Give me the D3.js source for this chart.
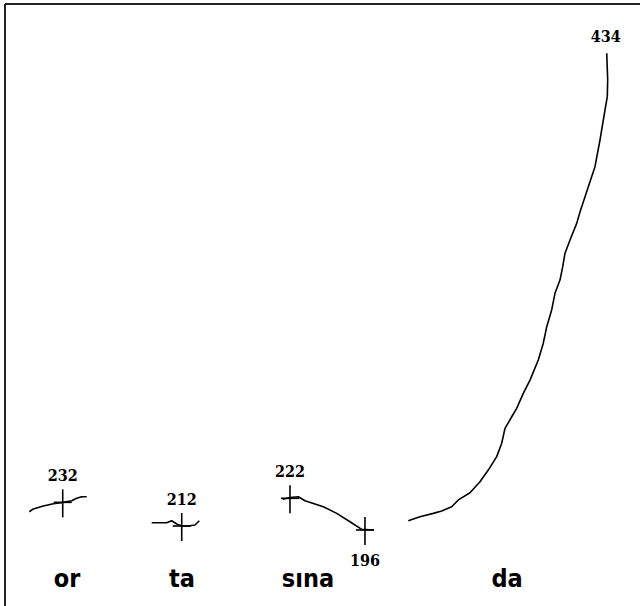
<!DOCTYPE html>
<html>
<head>
<meta charset="utf-8">
<script src="https://cdn.jsdelivr.net/npm/d3@7"></script>
<style>
  html, body { margin: 0; padding: 0; background: #fff; }
  svg { display: block; }
</style>
</head>
<body>
<svg id="chart" width="640" height="606"></svg>
<script>
// ---- data (time in s, pitch in Hz) ----
const orTime  = [0.0383, 0.0446, 0.0603, 0.0761, 0.0918, 0.1050, 0.1129, 0.1208, 0.1287];
const orHz    = [206.1, 207.5, 209.0, 210.1, 210.8, 211.6, 212.8, 213.6, 213.6];

const taTime  = [0.2310, 0.2546, 0.2625, 0.2704, 0.2783, 0.2887, 0.2992, 0.3060];
const taHz    = [200.6, 200.6, 201.6, 200.0, 199.0, 199.0, 199.5, 201.6];

const sinaTime = [0.4373, 0.4488, 0.4619, 0.4724, 0.5013, 0.5224, 0.5433, 0.5617, 0.5811];
const sinaHz   = [212.3, 213.2, 213.6, 211.6, 208.6, 205.3, 201.1, 197.3, 197.0];

const daTime = [0.6351, 0.6535, 0.6745, 0.6877, 0.7035, 0.7139, 0.7323, 0.7480, 0.7611, 0.7743,
                0.7822, 0.7874, 0.7980, 0.8058, 0.8162, 0.8268, 0.8398, 0.8477, 0.8531, 0.8609,
                0.8661, 0.8740, 0.8783, 0.8819, 0.8898, 0.9003, 0.9055, 0.9186, 0.9291, 0.9370,
                0.9449, 0.9485, 0.9491, 0.9476];
const daHz   = [201.6, 203.6, 205.3, 206.5, 208.6, 212.0, 215.6, 221.1, 226.9, 233.6,
                240.3, 247.7, 253.5, 257.7, 265.2, 271.8, 281.8, 290.2, 298.4, 306.8,
                315.1, 321.7, 328.4, 335.1, 341.7, 350.0, 355.7, 368.3, 378.3, 391.6,
                406.6, 413.2, 421.6, 434.9];

// measurement crosses and their value labels
const crossTime  = [0.0909, 0.2783, 0.4488, 0.5669];
const crossHz    = [210.8, 199.0, 212.8, 197.0];
const crossLabel = ["232", "212", "222", "196"];
const crossLabelSide = ["above", "above", "above", "below"];

const peakLabel = "434";

// syllables
const syllables    = ["or", "ta", "sına", "da"];
const syllableTime = [0.0976, 0.2787, 0.4772, 0.7906];

// ---- scales ----
const svg = d3.select("#chart");
const x = d3.scaleLinear().domain([0, 1]).range([5, 640]);
const y = d3.scaleLinear().domain([196, 434]).range([532, 55]);

// frame (left and top)
svg.append("line").attr("x1", 5).attr("x2", 5).attr("y1", 4).attr("y2", 606)
  .attr("stroke", "#222").attr("stroke-width", 2);
svg.append("line").attr("x1", 5).attr("x2", 640).attr("y1", 4).attr("y2", 4)
  .attr("stroke", "#222").attr("stroke-width", 2);

const line = d3.line().x(d => x(d[0])).y(d => y(d[1]));
const series = [
  d3.zip(orTime, orHz),
  d3.zip(taTime, taHz),
  d3.zip(sinaTime, sinaHz),
  d3.zip(daTime, daHz)
];
svg.append("g").selectAll("path").data(series).join("path")
  .attr("d", line)
  .attr("fill", "none")
  .attr("stroke", "#000")
  .attr("stroke-width", 1.6)
  .attr("stroke-linejoin", "round");

// crosses
const crosses = crossTime.map((t, i) => ({t, hz: crossHz[i], label: crossLabel[i], side: crossLabelSide[i]}));
const cg = svg.append("g").attr("stroke", "#000").attr("stroke-width", 1.6);
cg.selectAll("line.v").data(crosses).join("line").attr("class", "v")
  .attr("x1", d => x(d.t)).attr("x2", d => x(d.t))
  .attr("y1", d => y(d.hz) - 13).attr("y2", d => y(d.hz) + 15);
cg.selectAll("line.h").data(crosses).join("line").attr("class", "h")
  .attr("x1", d => x(d.t) - 9).attr("x2", d => x(d.t) + 9)
  .attr("y1", d => y(d.hz)).attr("y2", d => y(d.hz));

const numFont = "'DejaVu Serif Condensed', 'DejaVu Serif', serif";
svg.append("g").selectAll("text").data(crosses).join("text")
  .attr("x", d => x(d.t))
  .attr("y", d => d.side === "above" ? y(d.hz) - 21 : y(d.hz) + 36)
  .attr("text-anchor", "middle")
  .attr("font-family", numFont)
  .attr("font-weight", "bold")
  .attr("font-size", 16)
  .attr("fill", "#000")
  .text(d => d.label);

// peak label at end of da contour
svg.append("text")
  .attr("x", x(daTime[daTime.length - 1]) - 1)
  .attr("y", y(daHz[daHz.length - 1]) - 11)
  .attr("text-anchor", "middle")
  .attr("font-family", numFont)
  .attr("font-weight", "bold")
  .attr("font-size", 16)
  .attr("fill", "#000")
  .text(peakLabel);

// syllable labels
svg.append("g").selectAll("text").data(syllables).join("text")
  .attr("x", (d, i) => x(syllableTime[i]))
  .attr("y", 587)
  .attr("text-anchor", "middle")
  .attr("font-family", "'DejaVu Sans Condensed', 'DejaVu Sans', sans-serif")
  .attr("font-weight", "bold")
  .attr("font-size", 25)
  .attr("fill", "#000")
  .text(d => d);
</script>
</body>
</html>
